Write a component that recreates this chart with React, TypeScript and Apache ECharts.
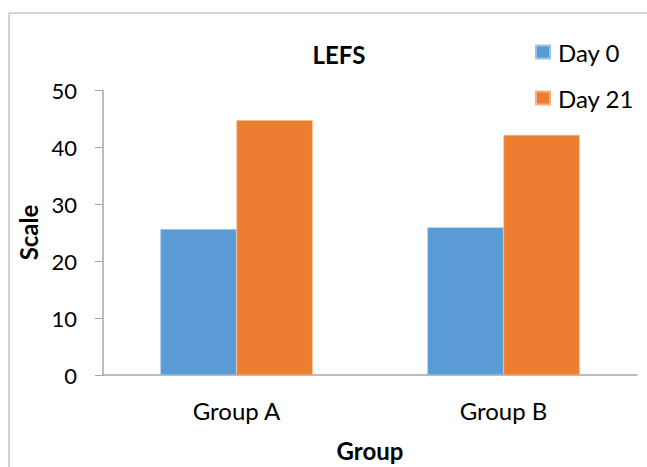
import React, { useEffect, useRef } from "react";
import * as echarts from "echarts";

const categories = ["Group A", "Group B"];
const day0 = [25.6, 25.9];
const day21 = [44.7, 42.1];
const seriesNames = ["Day 0", "Day 21"];

const FONT = "Lato, 'Open Sans', sans-serif";

export default function App() {
  const ref = useRef<HTMLDivElement>(null);

  useEffect(() => {
    if (!ref.current) return;
    const chart = echarts.init(ref.current, null, { renderer: "svg" });
    chart.setOption({
      animation: false,
      backgroundColor: "#ffffff",
      textStyle: { fontFamily: FONT },
      graphic: [
        {
          type: "rect",
          shape: { x: 9, y: 13, width: 700, height: 500 },
          style: { fill: "none", stroke: "#a6a6a6", lineWidth: 1 },
          silent: true,
        },
      ],
      title: {
        text: "LEFS",
        left: 334,
        top: 37,
        textAlign: "center",
        textStyle: { fontFamily: FONT, fontWeight: "bold", fontSize: 24, color: "#000" },
      },
      legend: {
        orient: "vertical",
        left: 535,
        top: 40,
        padding: 0,
        itemWidth: 14,
        itemHeight: 13,
        itemGap: 22,
        icon: "rect",
        data: seriesNames,
        textStyle: { fontFamily: FONT, fontSize: 24, color: "#000", padding: [0, 0, 0, 3] },
      },
      grid: { left: 103, right: 10, top: 90, bottom: 88, containLabel: false },
      xAxis: {
        type: "category",
        data: categories,
        name: "Group",
        nameLocation: "middle",
        nameGap: 63,
        nameTextStyle: { fontFamily: FONT, fontWeight: "bold", fontSize: 24, color: "#000" },
        axisLine: { show: true, lineStyle: { color: "#a6a6a6", width: 1.5 } },
        axisTick: { show: false },
        axisLabel: { fontFamily: FONT, fontSize: 24, color: "#000", margin: 23 },
      },
      yAxis: {
        type: "value",
        min: 0,
        max: 50,
        interval: 10,
        name: "Scale",
        nameLocation: "middle",
        nameGap: 60,
        nameTextStyle: { fontFamily: FONT, fontWeight: "bold", fontSize: 24, color: "#000" },
        axisLine: { show: true, lineStyle: { color: "#a6a6a6", width: 1.5 } },
        axisTick: { show: true, length: 8, lineStyle: { color: "#a6a6a6" } },
        splitLine: { show: false },
        axisLabel: { fontFamily: FONT, fontSize: 22, color: "#000", margin: 26 },
      },
      series: [
        {
          name: seriesNames[0],
          type: "bar",
          data: day0,
          barGap: "0%",
          barCategoryGap: "43%",
          itemStyle: { color: "#5b9bd5", borderColor: "#9cc3e6", borderWidth: 0.6 },
        },
        {
          name: seriesNames[1],
          type: "bar",
          data: day21,
          itemStyle: { color: "#ed7d31", borderColor: "#f4b183", borderWidth: 0.6 },
        },
      ],
    });
    return () => chart.dispose();
  }, []);

  return (
    <div
      ref={ref}
      style={{ position: "absolute", left: 0, top: 0, width: 647, height: 467 }}
    />
  );
}
